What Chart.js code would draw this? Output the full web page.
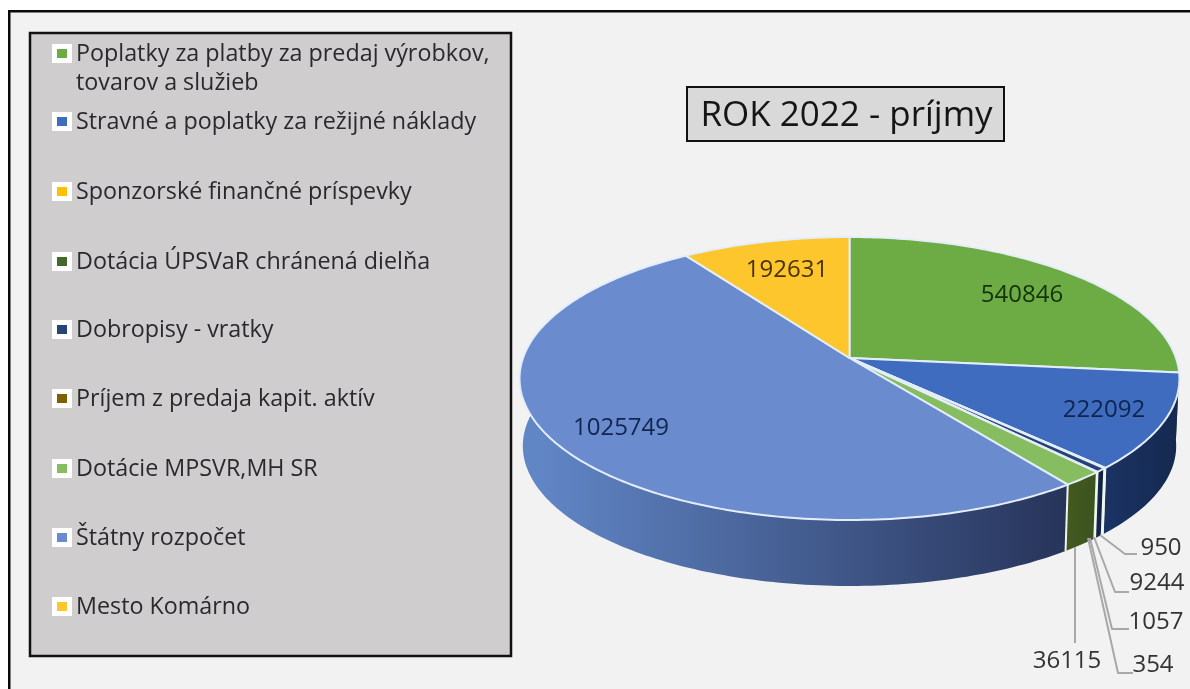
<!DOCTYPE html>
<html><head><meta charset="utf-8">
<style>html,body{margin:0;padding:0;background:#fff;overflow:hidden}canvas{display:block;filter:blur(0.5px)}</style>
<script src="https://cdn.jsdelivr.net/npm/chart.js@4"></script>
</head><body>
<canvas id="c" width="1190" height="689"></canvas>
<script>
const chartTitle = 'ROK 2022 - príjmy';
const categories = [
  ['Poplatky za platby za predaj výrobkov,', 'tovarov a služieb'],
  ['Stravné a poplatky za režijné náklady'],
  ['Sponzorské finančné príspevky'],
  ['Dotácia ÚPSVaR chránená dielňa'],
  ['Dobropisy - vratky'],
  ['Príjem z predaja kapit. aktív'],
  ['Dotácie MPSVR,MH SR'],
  ['Štátny rozpočet'],
  ['Mesto Komárno']
];
const values = [540846, 222092, 354, 1057, 9244, 950, 36115, 1025749, 192631];
const colors = ['#6dac44', '#3f6cbf', '#ffc000', '#43682b', '#264478', '#7f6000', '#85bd60', '#6a8ccf', '#fdc62c'];
const wallLeft  = ['#3f6427', '#1b3364', '#a07c00', '#2f4a1c', '#14264a', '#4d3a00', '#43591f', '#6186c6', '#a07c00'];
const wallRight = ['#2f4f1c', '#15294f', '#a07c00', '#223a14', '#0e1c38', '#3d2e00', '#3b5320', '#27345a', '#a07c00'];

// layout of the drawing (not data)
const legendY = [[53, 82], [121], [191], [261], [329], [398], [468], [537], [606]];
const labelAt = [[1022,295],[1104,410],[1153,665],[1156,622],[1157,583],[1161,548],[1067,661],[621,428],[787,270]];
const leaders = {
  5: [[1100,535],[1125,554],[1137,554]],
  4: [[1094,537],[1115,592],[1129,592]],
  3: [[1090,538],[1112,629],[1129,629]],
  2: [[1088,538],[1118,673],[1133,673]],
  6: [[1075,547],[1075,643]]
};
const CX = 849.5, CY = 358, K = -0.145, BX = 326.5, AY = 138.5, WS = 0.99, WD = 67.6;
const FONT = '"Open Sans", "Noto Sans", sans-serif';

function topPt(a){ const u=Math.cos(a), v=Math.sin(a), w=1+K*v; return [CX+BX*u/w, CY+AY*v/w]; }
function botPt(a){ const u=Math.cos(a), v=Math.sin(a), w=1+K*v; return [CX+WS*BX*u/w, CY+WS*AY*v/w+WD]; }

const scene = {
  id: 'scene',
  beforeDatasetsDraw(chart){
    const ctx = chart.ctx;
    const W = chart.width, H = chart.height;
    ctx.save();
    // page frame
    ctx.fillStyle='#ffffff'; ctx.fillRect(0,0,W,H);
    ctx.fillStyle='#f2f2f2'; ctx.fillRect(9,11,W-9,H-11);
    ctx.fillStyle='#0a0a0a'; ctx.fillRect(8,10,W-8,2.5); ctx.fillRect(8,10,2.5,H-10);

    // legend panel
    ctx.fillStyle='#d0cdce'; ctx.fillRect(30,33,481,623);
    ctx.strokeStyle='#111'; ctx.lineWidth=2.5; ctx.strokeRect(30,33,481,623);
    ctx.textBaseline='middle'; ctx.textAlign='left';
    ctx.font='23.3px '+FONT;
    categories.forEach((lines,i)=>{
      const y0=legendY[i][0];
      ctx.fillStyle='#ffffff'; ctx.fillRect(52,y0-9,20,19);
      ctx.fillStyle=colors[i]; ctx.fillRect(57,y0-4,10,9);
      ctx.fillStyle='#2a2a2e';
      lines.forEach((t,j)=>ctx.fillText(t,76,legendY[i][j]+1));
    });

    // title box
    ctx.fillStyle='#d9d9d9'; ctx.fillRect(687,87,317,54);
    ctx.strokeStyle='#111'; ctx.lineWidth=2; ctx.strokeRect(687,87,317,54);
    ctx.fillStyle='#151515'; ctx.font='35px '+FONT; ctx.textAlign='center';
    ctx.fillText(chartTitle,846.5,116);

    const arcs = chart.getDatasetMeta(0).data;
    const STEP = Math.PI/180;
    // side walls (front half only)
    arcs.forEach((el,i)=>{
      const a0=Math.max(el.startAngle,-0.2), a1=Math.min(el.endAngle,Math.PI+0.2);
      if(a1<=a0) return;
      const g=ctx.createLinearGradient(topPt(a1)[0],0,topPt(a0)[0],0);
      g.addColorStop(0,wallLeft[i]); g.addColorStop(1,wallRight[i]);
      ctx.fillStyle=g;
      ctx.beginPath();
      const n=Math.max(1,Math.ceil((a1-a0)/STEP));
      for(let s=0;s<=n;s++){const p=topPt(a0+(a1-a0)*s/n); s?ctx.lineTo(p[0],p[1]):ctx.moveTo(p[0],p[1]);}
      for(let s=n;s>=0;s--){const p=botPt(a0+(a1-a0)*s/n); ctx.lineTo(p[0],p[1]);}
      ctx.closePath(); ctx.fill();
    });
    // white seams on the wall
    ctx.strokeStyle='#eef6ee'; ctx.lineWidth=2;
    arcs.forEach(el=>{
      const a=el.startAngle;
      if(a>0.2&&a<Math.PI){const t=topPt(a),b=botPt(a);ctx.beginPath();ctx.moveTo(t[0],t[1]);ctx.lineTo(b[0],b[1]);ctx.stroke();}
    });
    // top faces
    ctx.strokeStyle='#e4eefa'; ctx.lineWidth=2; ctx.lineJoin='round';
    arcs.forEach((el,i)=>{
      ctx.fillStyle=colors[i];
      ctx.beginPath(); ctx.moveTo(CX,CY);
      const n=Math.max(1,Math.ceil((el.endAngle-el.startAngle)/STEP));
      for(let s=0;s<=n;s++){const p=topPt(el.startAngle+(el.endAngle-el.startAngle)*s/n); ctx.lineTo(p[0],p[1]);}
      ctx.closePath(); ctx.fill(); ctx.stroke();
    });
    // leader lines
    ctx.strokeStyle='#a8a8a8'; ctx.lineWidth=2;
    Object.values(leaders).forEach(pts=>{
      ctx.beginPath(); pts.forEach((p,j)=>j?ctx.lineTo(p[0],p[1]):ctx.moveTo(p[0],p[1])); ctx.stroke();
    });
    // data labels
    ctx.font='24px '+FONT; ctx.textAlign='center'; ctx.textBaseline='middle';
    const labelColors=['#14330a','#0f2450','#333','#333','#333','#333','#333','#10264f','#4a3200'];
    values.forEach((v,i)=>{ ctx.fillStyle=labelColors[i]; ctx.fillText(String(v),labelAt[i][0],labelAt[i][1]); });
    ctx.restore();
    return false;
  }
};

new Chart(document.getElementById('c'), {
  type: 'pie',
  data: { labels: categories.map(l=>l.join(' ')), datasets: [{ data: values, backgroundColor: colors }] },
  options: {
    responsive: false, animation: false,
    plugins: { legend: { display: false }, title: { display: false }, tooltip: { enabled: false } }
  },
  plugins: [scene]
});
</script>
</body></html>
